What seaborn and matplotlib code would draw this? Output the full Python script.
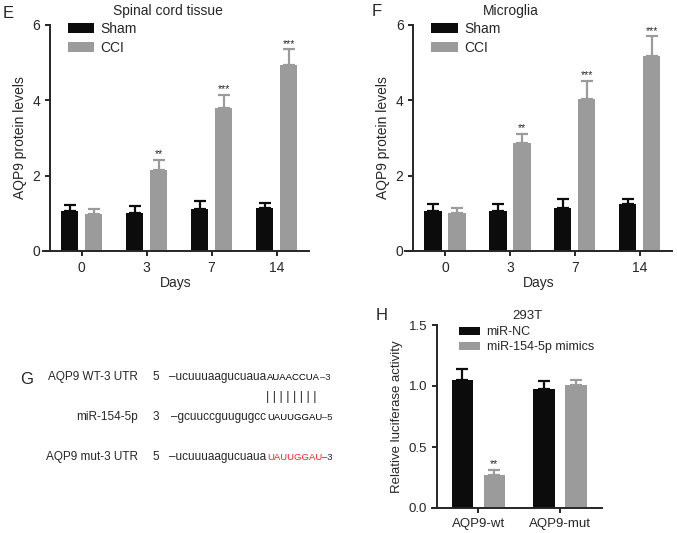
import matplotlib
matplotlib.use("Agg")
import matplotlib.pyplot as plt
import pandas as pd
import seaborn as sns

W, H = 677, 533

days = ["0", "3", "7", "14"]
groups_EF = ["Sham", "CCI"]

e_sham = [1.07, 1.01, 1.11, 1.13]
e_sham_err = [0.15, 0.18, 0.21, 0.14]
e_cci = [0.98, 2.15, 3.80, 4.93]
e_cci_err = [0.14, 0.27, 0.34, 0.42]
e_stars = ["", "**", "***", "***"]

f_sham = [1.07, 1.07, 1.14, 1.24]
f_sham_err = [0.17, 0.17, 0.24, 0.14]
f_cci = [1.00, 2.86, 4.03, 5.17]
f_cci_err = [0.14, 0.25, 0.49, 0.53]
f_stars = ["", "**", "***", "***"]

constructs = ["AQP9-wt", "AQP9-mut"]
groups_H = ["miR-NC", "miR-154-5p mimics"]
h_nc = [1.05, 0.975]
h_nc_err = [0.09, 0.065]
h_mim = [0.27, 1.005]
h_mim_err = [0.04, 0.045]
h_stars = ["**", ""]

BLACK = "#0c0c0c"
GRAY = "#9b9b9b"


def rect(left, top, right, bottom):
    return [left / W, 1 - bottom / H, (right - left) / W, (bottom - top) / H]


def fx(x):
    return x / W


def fy(y):
    return 1 - y / H


def grouped_bars(ax, cats, names, a, a_err, b, b_err, stars, width, gap, fs):
    df = pd.DataFrame({
        "cat": cats * 2,
        "group": [names[0]] * len(cats) + [names[1]] * len(cats),
        "value": a + b,
    })
    sns.barplot(data=df, x="cat", y="value", hue="group", order=cats,
                hue_order=names, palette=[BLACK, GRAY], width=width, gap=gap,
                errorbar=None, saturation=1, linewidth=0, zorder=2, ax=ax)
    errs = [a_err, b_err]
    cols = [BLACK, GRAY]
    bar_conts = list(ax.containers)
    for k, cont in enumerate(bar_conts):
        xs = [p.get_x() + p.get_width() / 2 for p in cont.patches]
        ys = [p.get_height() for p in cont.patches]
        # lower cap sits hidden behind the bar top
        ax.errorbar(xs, ys, yerr=[[0] * len(ys), errs[k]], fmt="none",
                    ecolor=cols[k], elinewidth=1.6, capsize=4, capthick=1.6,
                    zorder=1)
        if k == 1:
            for x, y, e, s in zip(xs, ys, errs[k], stars):
                if s:
                    ax.annotate(s, (x, y + e), xytext=(0, 0.5),
                                textcoords="offset points", ha="center",
                                va="bottom", fontsize=fs)
    ax.set_xlabel("")
    ax.set_ylabel("")


def style_axes(ax, inset):
    sns.despine(ax=ax)
    for s in ["left", "bottom"]:
        ax.spines[s].set_linewidth(1.4)
    # x axis line starts a little left of the y axis
    ax.spines["left"].set_position(("outward", -inset))
    ax.tick_params(width=1.4, length=3.5, labelsize=10)


sns.set_style("ticks")
plt.rcParams["font.family"] = ["Liberation Sans", "DejaVu Sans"]

fig = plt.figure(figsize=(W / 100, H / 100), dpi=100)

# Panel E
axE = fig.add_axes(rect(43, 25, 309, 251))
grouped_bars(axE, days, groups_EF, e_sham, e_sham_err, e_cci, e_cci_err,
             e_stars, 0.74, 0.27, 7.5)
axE.set_ylim(0, 6)
axE.set_yticks([0, 2, 4, 6])
axE.set_xlim(-0.595, 3.5)
style_axes(axE, 5)
axE.set_xlabel("Days", fontsize=10, labelpad=1)
axE.set_ylabel("AQP9 protein levels", fontsize=10)
axE.set_title("Spinal cord tissue", fontsize=10, x=0.47, pad=7)
sns.move_legend(axE, "upper left", bbox_to_anchor=(0.073, 1.04), title=None,
                frameon=False, fontsize=10, handlelength=1.9, handleheight=0.7,
                handletextpad=0.45, labelspacing=0.37, borderaxespad=0)

# Panel F
axF = fig.add_axes(rect(405, 25, 672, 251))
grouped_bars(axF, days, groups_EF, f_sham, f_sham_err, f_cci, f_cci_err,
             f_stars, 0.74, 0.27, 7.5)
axF.set_ylim(0, 6)
axF.set_yticks([0, 2, 4, 6])
axF.set_xlim(-0.615, 3.5)
style_axes(axF, 6)
axF.set_xlabel("Days", fontsize=10, labelpad=1)
axF.set_ylabel("AQP9 protein levels", fontsize=10)
axF.set_title("Microglia", fontsize=10, x=0.395, pad=7)
sns.move_legend(axF, "upper left", bbox_to_anchor=(0.078, 1.04), title=None,
                frameon=False, fontsize=10, handlelength=1.9, handleheight=0.7,
                handletextpad=0.45, labelspacing=0.37, borderaxespad=0)

# Panel H
axH = fig.add_axes(rect(432, 325, 602, 508))
grouped_bars(axH, constructs, groups_H, h_nc, h_nc_err, h_mim, h_mim_err,
             h_stars, 0.78, 0.32, 7.5)
axH.set_ylim(0, 1.5)
axH.set_yticks([0, 0.5, 1.0, 1.5])
axH.set_yticklabels(["0.0", "0.5", "1.0", "1.5"])
axH.set_xlim(-0.567, 1.51)
style_axes(axH, 3.6)
axH.tick_params(labelsize=9.5)
axH.set_ylabel("Relative luciferase activity", fontsize=9.5)
axH.set_title("293T", fontsize=9.5, x=0.56, pad=4)
sns.move_legend(axH, "upper left", bbox_to_anchor=(0.13, 1.02), title=None,
                frameon=False, fontsize=9, handlelength=1.7, handleheight=0.7,
                handletextpad=0.5, labelspacing=0.25, borderaxespad=0)

# Panel G: sequence alignment
seq_fs = 8.5
up_fs = 6.8
rows = [
    (377, "AQP9 WT-3 UTR", "5", "\u2013ucuuuaagucuaua", "AUAACCUA", "\u20133", "black"),
    (417, "miR-154-5p", "3", "\u2013gcuuccguugugcc", "UAUUGGAU", "\u20135", "black"),
    (457, "AQP9 mut-3 UTR", "5", "\u2013ucuuuaagucuaua", "UAUUGGAU", "\u20133", "#e8262b"),
]
for y, name, end5, lower, upper, tail, col in rows:
    fig.text(fx(138), fy(y), name, ha="right", va="center", fontsize=seq_fs)
    fig.text(fx(156), fy(y), end5, ha="center", va="center", fontsize=seq_fs)
    fig.text(fx(266), fy(y), lower, ha="right", va="center", fontsize=seq_fs)
    t = fig.text(fx(267), fy(y), upper, ha="left", va="center",
                 fontsize=up_fs, color=col)
    fig.canvas.draw()
    bb = t.get_window_extent()
    fig.text(bb.x1 / W, fy(y), tail, ha="left", va="center", fontsize=up_fs)
fig.text(fx(266), fy(397), "| | | | | | | |", ha="left", va="center",
         fontsize=9)

# Panel letters
fig.text(fx(3), fy(13), "E", fontsize=12, va="center")
fig.text(fx(372), fy(11), "F", fontsize=12, va="center")
fig.text(fx(20), fy(379), "G", fontsize=12, va="center")
fig.text(fx(376), fy(316), "H", fontsize=12, va="center")

fig.savefig("out.png", dpi=100)
